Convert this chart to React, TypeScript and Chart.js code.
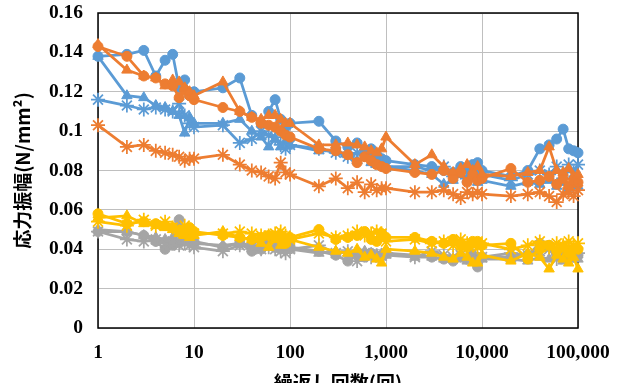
import React, { useEffect, useRef } from "react";
import { Chart, registerables } from "chart.js";

Chart.register(...registerables);

// 繰返し回数 (load cycles) at which stress amplitude was recorded
const CYCLES = [
  1, 2, 3, 4, 5, 6, 7, 8, 9,
  10, 20, 30, 40, 50, 60, 70, 80, 90,
  100, 200, 300, 400, 500, 600, 700, 800, 900,
  1000, 2000, 3000, 4000, 5000, 6000, 7000, 8000, 9000,
  10000, 20000, 30000, 40000, 50000, 60000, 70000, 80000, 90000,
  100000,
];

const X_TICKS = [1, 10, 100, 1000, 10000, 100000];
const Y_TICKS = [0, 0.02, 0.04, 0.06, 0.08, 0.1, 0.12, 0.14, 0.16];

// 応力振幅 (N/mm²) per specimen
const blueCircle = [
  0.138, 0.139, 0.141, 0.128, 0.136, 0.139, 0.122, 0.126, 0.118,
  0.12, 0.122, 0.127, 0.108, 0.104, 0.11, 0.116, 0.106, 0.102,
  0.104, 0.105, 0.095, 0.092, 0.094, 0.09, 0.091, 0.088, 0.086,
  0.085, 0.083, 0.082, 0.08, 0.079, 0.082, 0.081, 0.083, 0.084,
  0.08, 0.077, 0.08, 0.091, 0.093, 0.096, 0.101, 0.091, 0.09,
  0.089,
];
const blueTriangle = [
  0.138, 0.118, 0.117, 0.113, 0.112, 0.11, 0.108, 0.099, 0.107,
  0.104, 0.104, 0.106, 0.1, 0.097, 0.092, 0.096, 0.092, 0.095,
  0.093, 0.09, 0.09, 0.088, 0.085, 0.087, 0.084, 0.083, 0.085,
  0.082, 0.08, 0.078, 0.073, 0.075, 0.078, 0.076, 0.077, 0.074,
  0.075, 0.072, 0.074, 0.073, 0.075, 0.072, 0.074, 0.071, 0.073,
  0.072,
];
const blueStar = [
  0.116, 0.113, 0.111, 0.112, 0.111, 0.11, 0.114, 0.108, 0.104,
  0.102, 0.103, 0.094, 0.096, 0.1, 0.098, 0.097, 0.093, 0.091,
  0.093, 0.091, 0.089, 0.087, 0.089, 0.088, 0.085, 0.086, 0.084,
  0.082, 0.082, 0.08, 0.082, 0.077, 0.079, 0.076, 0.081, 0.079,
  0.078, 0.075, 0.078, 0.08, 0.078, 0.082, 0.076, 0.083, 0.079,
  0.083,
];
const orangeCircle = [
  0.143, 0.138, 0.128, 0.127, 0.124, 0.123, 0.117, 0.121, 0.118,
  0.116, 0.112, 0.11, 0.107, 0.104, 0.103, 0.102, 0.1, 0.098,
  0.097, 0.091, 0.09, 0.088, 0.084, 0.087, 0.085, 0.083, 0.082,
  0.081, 0.079, 0.078, 0.08, 0.076, 0.079, 0.074, 0.077, 0.075,
  0.076, 0.081, 0.074, 0.075, 0.077, 0.073, 0.076, 0.072, 0.075,
  0.074,
];
const orangeTriangle = [
  0.144, 0.131, 0.128, 0.127, 0.123, 0.126, 0.125, 0.122, 0.12,
  0.118, 0.125, 0.11, 0.107, 0.106, 0.108, 0.108, 0.106, 0.104,
  0.104, 0.093, 0.093, 0.094, 0.093, 0.092, 0.09, 0.089, 0.091,
  0.097, 0.083, 0.088, 0.082, 0.079, 0.081, 0.083, 0.08, 0.082,
  0.078, 0.077, 0.079, 0.08, 0.092, 0.08, 0.079, 0.081, 0.077,
  0.078,
];
const orangeStar = [
  0.103, 0.092, 0.093, 0.09, 0.089, 0.088, 0.087, 0.085, 0.086,
  0.086, 0.088, 0.083, 0.08, 0.079, 0.077, 0.076, 0.084, 0.079,
  0.078, 0.072, 0.076, 0.071, 0.074, 0.069, 0.073, 0.07, 0.071,
  0.071, 0.069, 0.069, 0.07, 0.068, 0.066, 0.069, 0.068, 0.069,
  0.068, 0.067, 0.068, 0.069, 0.067, 0.064, 0.068, 0.069, 0.067,
  0.07,
];
const grayCircle = [
  0.049, 0.049, 0.047, 0.044, 0.04, 0.042, 0.055, 0.05, 0.046,
  0.044, 0.041, 0.043, 0.039, 0.04, 0.043, 0.041, 0.042, 0.04,
  0.041, 0.039, 0.037, 0.034, 0.037, 0.036, 0.038, 0.036, 0.037,
  0.038, 0.037, 0.036, 0.035, 0.034, 0.036, 0.035, 0.037, 0.031,
  0.036, 0.036, 0.037, 0.043, 0.042, 0.037, 0.038, 0.036, 0.038,
  0.037,
];
const grayTriangle = [
  0.05, 0.049, 0.047, 0.046, 0.045, 0.046, 0.044, 0.045, 0.044,
  0.043, 0.042, 0.043, 0.042, 0.041, 0.042, 0.041, 0.04, 0.041,
  0.04, 0.038, 0.039, 0.038, 0.037, 0.039, 0.038, 0.037, 0.036,
  0.037, 0.036, 0.036, 0.035, 0.035, 0.036, 0.034, 0.035, 0.034,
  0.035, 0.035, 0.034, 0.036, 0.035, 0.036, 0.034, 0.035, 0.036,
  0.035,
];
const grayStar = [
  0.049, 0.045, 0.044, 0.045, 0.043, 0.044, 0.042, 0.043, 0.042,
  0.041, 0.039, 0.042, 0.041, 0.04, 0.041, 0.04, 0.039, 0.038,
  0.04, 0.042, 0.038, 0.039, 0.034, 0.038, 0.036, 0.037, 0.037,
  0.038, 0.036, 0.039, 0.037, 0.036, 0.037, 0.036, 0.038, 0.035,
  0.036, 0.038, 0.037, 0.039, 0.04, 0.035, 0.038, 0.04, 0.039,
  0.038,
];
const yellowCircle = [
  0.058, 0.053, 0.054, 0.053, 0.052, 0.051, 0.049, 0.05, 0.051,
  0.049, 0.047, 0.046, 0.045, 0.046, 0.047, 0.046, 0.047, 0.043,
  0.046, 0.05, 0.045, 0.046, 0.047, 0.049, 0.045, 0.044, 0.048,
  0.046, 0.046, 0.044, 0.043, 0.045, 0.042, 0.041, 0.044, 0.044,
  0.042, 0.043, 0.035, 0.04, 0.042, 0.039, 0.041, 0.038, 0.04,
  0.04,
];
const yellowTriangle = [
  0.056, 0.057, 0.053, 0.052, 0.051, 0.05, 0.048, 0.047, 0.046,
  0.047, 0.049, 0.046, 0.045, 0.043, 0.041, 0.045, 0.042, 0.044,
  0.045, 0.041, 0.039, 0.038, 0.04, 0.036, 0.037, 0.035, 0.033,
  0.04, 0.039, 0.038, 0.036, 0.035, 0.038, 0.036, 0.033, 0.033,
  0.037, 0.034, 0.038, 0.036, 0.03, 0.037, 0.035, 0.033, 0.036,
  0.03,
];
const yellowStar = [
  0.054, 0.052, 0.055, 0.052, 0.054, 0.051, 0.049, 0.052, 0.049,
  0.048, 0.048, 0.049, 0.048, 0.047, 0.047, 0.048, 0.049, 0.047,
  0.045, 0.048, 0.046, 0.047, 0.049, 0.047, 0.048, 0.049, 0.048,
  0.044, 0.045, 0.043, 0.044, 0.042, 0.045, 0.043, 0.042, 0.041,
  0.043, 0.04, 0.042, 0.044, 0.041, 0.043, 0.042, 0.044, 0.042,
  0.043,
];

const BLUE = "#5B9BD5";
const ORANGE = "#ED7D31";
const GRAY = "#A5A5A5";
const YELLOW = "#FFC000";

const SERIES: [number[], string, string][] = [
  [blueCircle, BLUE, "circle"],
  [blueTriangle, BLUE, "triangle"],
  [blueStar, BLUE, "star"],
  [orangeCircle, ORANGE, "circle"],
  [orangeTriangle, ORANGE, "triangle"],
  [orangeStar, ORANGE, "star"],
  [grayCircle, GRAY, "circle"],
  [grayTriangle, GRAY, "triangle"],
  [grayStar, GRAY, "star"],
  [yellowCircle, YELLOW, "circle"],
  [yellowTriangle, YELLOW, "triangle"],
  [yellowStar, YELLOW, "star"],
];

// black frame around the plot area, drawn beneath the series
const frame = {
  id: "frame",
  beforeDatasetsDraw(chart: any) {
    const { ctx, chartArea } = chart;
    ctx.save();
    ctx.strokeStyle = "#000";
    ctx.lineWidth = 1.5;
    ctx.strokeRect(
      chartArea.left,
      chartArea.top,
      chartArea.right - chartArea.left,
      chartArea.bottom - chartArea.top
    );
    ctx.restore();
  },
};

const TICK_FONT = { family: "'Liberation Serif', 'Times New Roman', serif", size: 19.5, weight: "bold" as const };
const TITLE_FONT = { family: "'Noto Sans CJK JP', sans-serif", size: 19, weight: "bold" as const };

export default function App() {
  const ref = useRef<HTMLCanvasElement | null>(null);

  useEffect(() => {
    if (!ref.current) return;
    const chart = new Chart(ref.current, {
      type: "line",
      data: {
        datasets: SERIES.map(([values, color, style], i) => ({
          data: CYCLES.map((x, j) => ({ x, y: values[j] })),
          borderColor: color,
          backgroundColor: color,
          borderWidth: 2.75,
          pointStyle: style as any,
          pointRadius: style === "star" ? 7 : style === "triangle" ? 6 : 5,
          pointBorderWidth: style === "star" ? 1.75 : 1,
          pointBorderColor: color,
          pointBackgroundColor: color,
          tension: 0,
          clip: false as any,
          order: SERIES.length - i,
        })),
      },
      options: {
        animation: false,
        responsive: false,
        maintainAspectRatio: false,
        layout: { padding: { top: 13, right: 41, left: 0, bottom: 0 } },
        plugins: { legend: { display: false }, tooltip: { enabled: false } },
        scales: {
          x: {
            type: "logarithmic",
            min: 1,
            max: 100000,
            afterBuildTicks: (scale: any) => {
              scale.ticks = X_TICKS.map((v) => ({ value: v }));
            },
            afterFit: (scale: any) => {
              scale.height = 72;
              scale.paddingLeft = 0;
              scale.paddingRight = 0;
            },
            border: { display: false },
            grid: { color: "#BFBFBF", lineWidth: 1, drawTicks: false },
            ticks: {
              autoSkip: false,
              maxRotation: 0,
              padding: 13,
              color: "#000",
              font: TICK_FONT,
              callback: (v: any) => Number(v).toLocaleString("en-US"),
            },
            title: {
              display: true,
              text: "繰返し回数(回)",
              color: "#000",
              font: TITLE_FONT,
              padding: { top: 1, bottom: 6 },
            },
          },
          y: {
            min: 0,
            max: 0.16,
            afterBuildTicks: (scale: any) => {
              scale.ticks = Y_TICKS.map((v) => ({ value: v }));
            },
            afterFit: (scale: any) => {
              scale.width = 98;
              scale.paddingTop = 0;
              scale.paddingBottom = 0;
            },
            border: { display: false },
            grid: { color: "#BFBFBF", lineWidth: 1, drawTicks: false },
            ticks: {
              padding: 15,
              color: "#000",
              font: TICK_FONT,
              callback: (v: any) => String(Math.round(Number(v) * 100) / 100),
            },
            title: {
              display: true,
              text: "応力振幅(N/mm²)",
              color: "#000",
              font: TITLE_FONT,
              padding: { top: 11, bottom: 0 },
            },
          },
        },
      },
      plugins: [frame],
    });
    return () => chart.destroy();
  }, []);

  return (
    <div style={{ position: "fixed", left: 0, top: 0, width: 619, height: 383, overflow: "hidden", background: "#fff" }}>
      <canvas ref={ref} width={619} height={400} style={{ display: "block" }} />
    </div>
  );
}
